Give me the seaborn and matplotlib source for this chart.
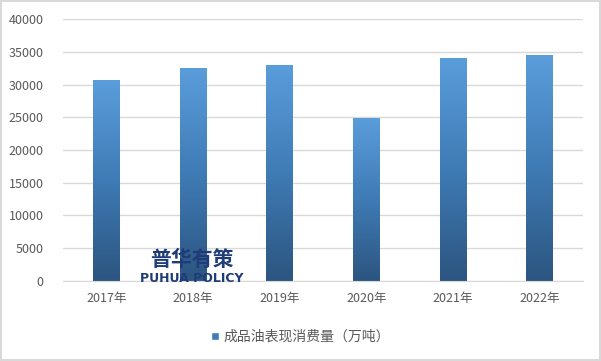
import numpy as np
import pandas as pd
import matplotlib
matplotlib.use("Agg")
import matplotlib.pyplot as plt
from matplotlib.colors import LinearSegmentedColormap
from matplotlib.patches import Patch
import seaborn as sns

# --- dados ---
anos = ['2017年', '2018年', '2019年', '2020年', '2021年', '2022年']
consumo = [30700, 32500, 33000, 24900, 34050, 34500]
serie = '成品油表现消费量（万吨）'

df = pd.DataFrame({'ano': anos, 'valor': consumo})

sns.set_style("white")
plt.rcParams['font.family'] = ['Noto Sans CJK SC', 'DejaVu Sans']

fig = plt.figure(figsize=(6.01, 3.61), dpi=100)
fig.patch.set_edgecolor('#d9d9d9')
fig.patch.set_linewidth(1.5)
ax = fig.add_axes([0.105, 0.222, 0.865, 0.725])

sns.barplot(data=df, x='ano', y='valor', color='#4a8ac8', width=0.31, ax=ax,
            saturation=1, zorder=3)

# gradiente vertical nas barras (escuro embaixo, claro em cima)
cmap = LinearSegmentedColormap.from_list('grad', ['#2c5580', '#3f7bb5', '#5a9ddb'])
grad = np.linspace(0, 1, 256).reshape(-1, 1)
for bar in ax.patches:
    x0, y0 = bar.get_x(), bar.get_y()
    w, h = bar.get_width(), bar.get_height()
    img = ax.imshow(grad, cmap=cmap, aspect='auto', origin='lower',
                    extent=[x0, x0 + w, y0, y0 + h], zorder=4)
    img.set_clip_path(bar)
    bar.set_alpha(0)

ax.set_xlim(-0.5, len(anos) - 0.5)
ax.set_ylim(0, 40000)
ax.set_yticks(range(0, 40001, 5000))
ax.yaxis.grid(True, color='#d9d9d9', linewidth=1, zorder=0)
ax.set_axisbelow(True)
for s in ['top', 'right', 'left']:
    ax.spines[s].set_visible(False)
ax.spines['bottom'].set_color('#d9d9d9')
ax.spines['bottom'].set_zorder(5)
ax.tick_params(axis='both', length=0, labelsize=9, labelcolor='#595959')
ax.tick_params(axis='y', pad=14)
ax.tick_params(axis='x', pad=8)
ax.set_xlabel('')
ax.set_ylabel('')

# marca d'água
fig.text(0.319, 0.252, '普华有策', ha='center', va='bottom', fontsize=15,
         fontweight='bold', color='#1f3c78', zorder=10)
fig.text(0.319, 0.246, 'PUHUA POLICY', ha='center', va='top', fontsize=9,
         fontweight='bold', color='#1f3c78', family='DejaVu Sans', zorder=10)

# legenda
fig.legend(handles=[Patch(facecolor='#3f7bb5', label=serie)], loc='center',
           bbox_to_anchor=(0.5, 0.067), frameon=False, fontsize=10,
           handlelength=0.55, handleheight=0.55, handletextpad=0.3,
           labelcolor='#595959')

plt.savefig('out.png', dpi=100)
